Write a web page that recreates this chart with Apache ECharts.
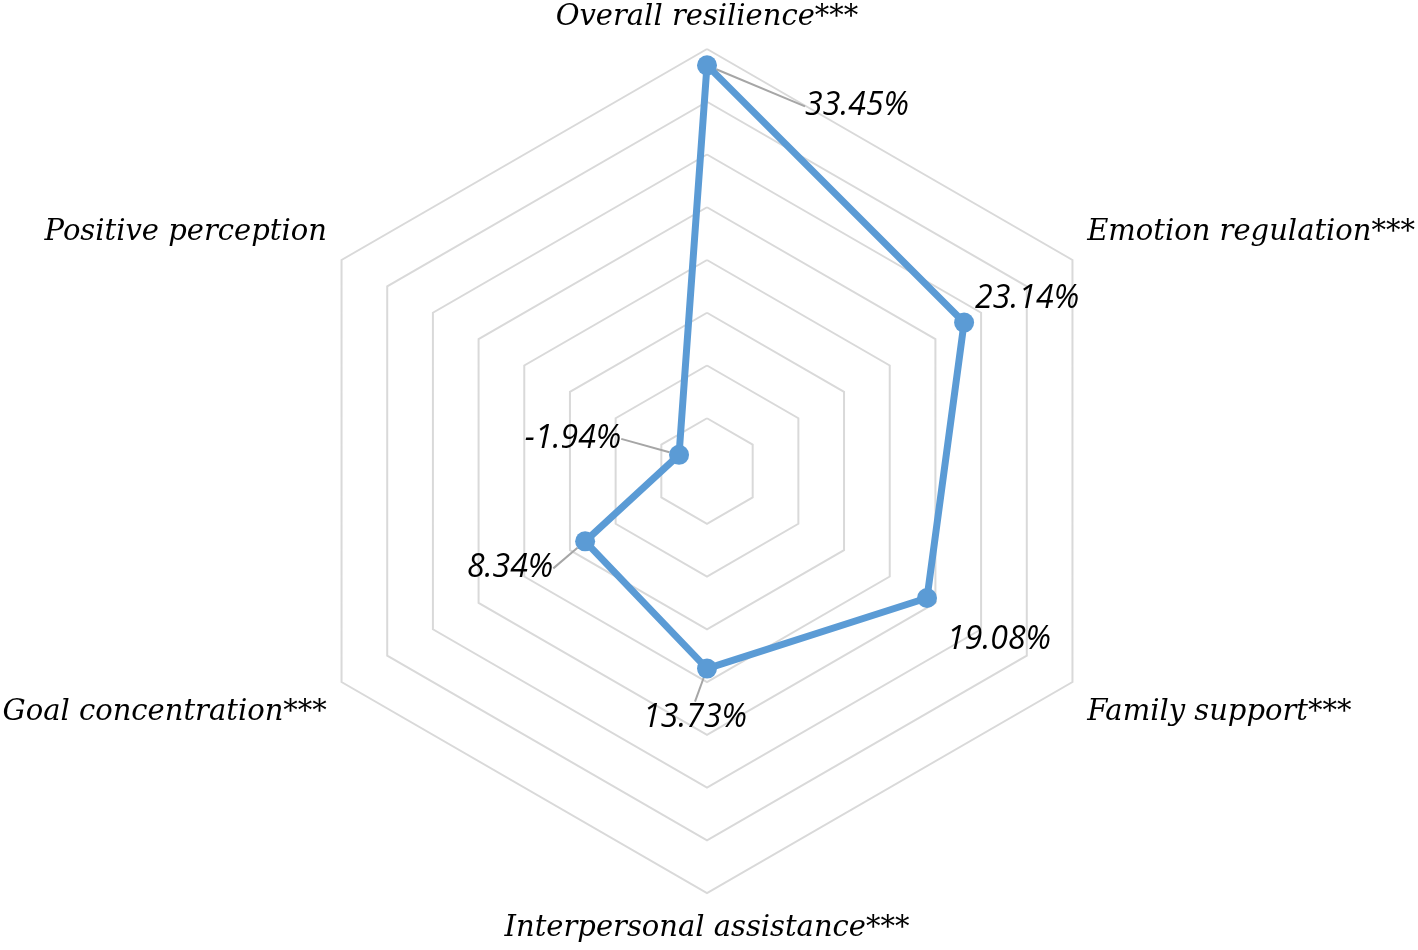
<!DOCTYPE html>
<html>
<head>
<meta charset="utf-8">
<script src="https://cdn.jsdelivr.net/npm/echarts@6/dist/echarts.min.js"></script>
<style>
html,body{margin:0;padding:0;background:#fff;}
#chart{width:1418px;height:950px;}
</style>
</head>
<body>
<div id="chart"></div>
<script>
// Indicators in ECharts order (counter-clockwise from top)
const categories = ['Overall resilience***', 'Positive perception', 'Goal concentration***', 'Interpersonal assistance***', 'Family support***', 'Emotion regulation***'];
const values = [33.45, -1.94, 8.34, 13.73, 19.08, 23.14];
const axisMin = -5;
const axisMax = 35;
const ringCount = 8;

// which value labels have a leader line (as in the reference)
const hasLeader = [true, true, true, true, false, false];
// label offsets (style): dx, dy from the point, in the same order as values
const labelOffsets = [[150, 41], [-106, -16], [-75, 27], [-12, 49], [72, 42], [63, -24]];
// name placement style per indicator
const nameStyleKey = ['top', 'up', 'down', 'bot', 'down', 'up'];

const fmt = v => v.toFixed(2) + '%';
const labelTexts = values.map(fmt);

const nameFont = {color: '#000000', fontFamily: 'DejaVu Serif', fontStyle: 'italic', fontSize: 29};
const valueFont = {color: '#000000', fontFamily: 'Open Sans', fontStyle: 'italic', fontSize: 32};

function layoutFn(params) {
  const i = labelTexts.indexOf(params.text);
  if (i < 0) return {};
  return {dx: labelOffsets[i][0], dy: labelOffsets[i][1]};
}

const chart = echarts.init(document.getElementById('chart'), null, {renderer: 'canvas'});
chart.setOption({
  backgroundColor: '#ffffff',
  animation: false,
  radar: {
    center: [707, 471],
    radius: 422,
    startAngle: 90,
    splitNumber: ringCount,
    shape: 'polygon',
    indicator: categories.map(n => ({name: n, min: axisMin, max: axisMax})),
    axisName: Object.assign({}, nameFont, {
      formatter: function (name) {
        const k = nameStyleKey[categories.indexOf(name)] || 'top';
        return '{' + k + '|' + name + '}';
      },
      rich: {
        top: Object.assign({}, nameFont),
        bot: Object.assign({padding: [4, 0, 0, 0]}, nameFont),
        up: Object.assign({padding: [0, 0, 38, 0]}, nameFont),
        down: Object.assign({padding: [44, 0, 0, 0]}, nameFont)
      }
    }),
    nameGap: 17,
    axisLine: {show: false},
    axisTick: {show: false},
    axisLabel: {show: false},
    splitArea: {show: false},
    splitLine: {lineStyle: {color: '#D9D9D9', width: 2}}
  },
  series: [{
    type: 'radar',
    symbol: 'circle',
    symbolSize: 20,
    z: 2,
    lineStyle: {color: '#5B9BD5', width: 7, join: 'round'},
    itemStyle: {color: '#5B9BD5'},
    label: Object.assign({
      show: true,
      position: 'inside',
      formatter: p => (hasLeader[values.indexOf(p.value)] ? '' : fmt(p.value))
    }, valueFont),
    labelLayout: layoutFn,
    data: [{value: values}]
  }, {
    type: 'radar',
    symbol: 'circle',
    symbolSize: 20,
    z: 1,
    lineStyle: {color: 'rgba(0,0,0,0)', width: 0},
    itemStyle: {color: 'rgba(0,0,0,0)'},
    label: Object.assign({
      show: true,
      position: 'inside',
      formatter: p => (hasLeader[values.indexOf(p.value)] ? fmt(p.value) : '')
    }, valueFont),
    labelLine: {show: true, lineStyle: {color: '#A6A6A6', width: 2}},
    labelLayout: layoutFn,
    data: [{value: values}]
  }]
});
</script>
</body>
</html>
